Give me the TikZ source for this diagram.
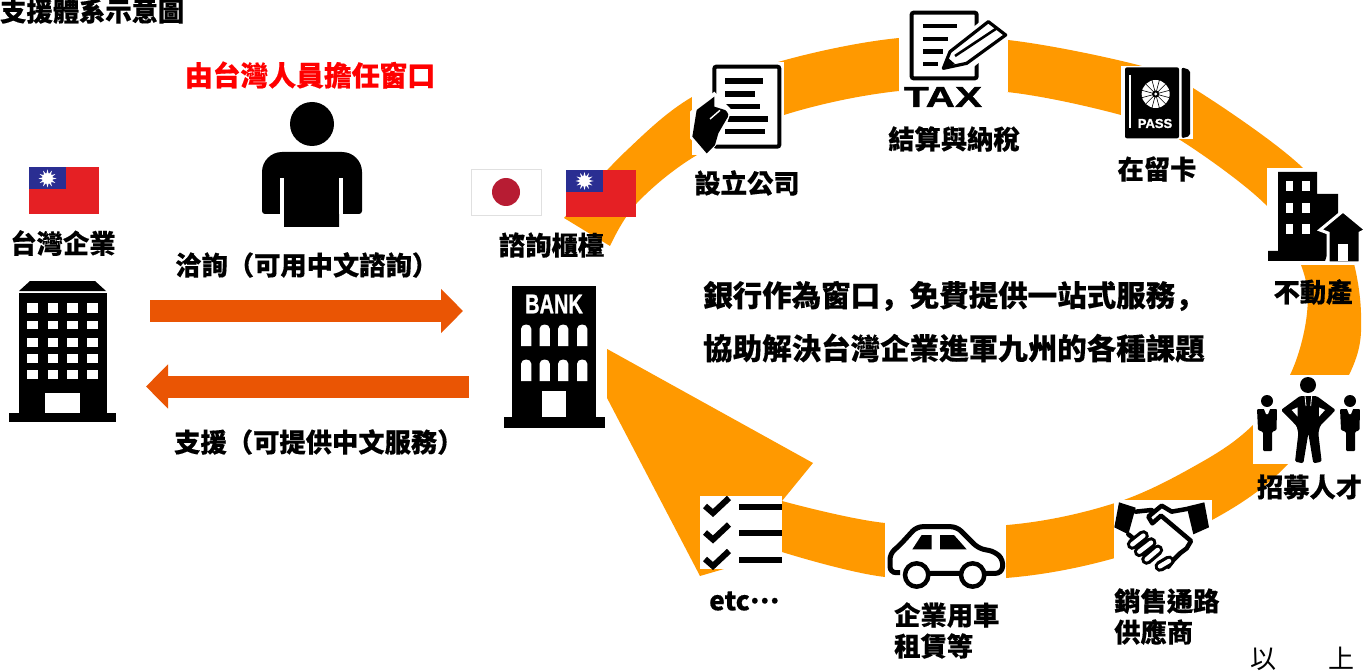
\documentclass[tikz,border=0pt]{standalone}
\usepackage{fontspec}
\usetikzlibrary{arrows.meta,calc}
\newfontfamily\cjk{Noto Sans CJK TC}[BoldFeatures={FakeBold=0.35}]
\newfontfamily\cjksc{Noto Sans CJK SC}[BoldFeatures={FakeBold=0.35}]
\newfontfamily\heavy{Liberation Sans}[BoldFeatures={FakeBold=1.2}]
\setmainfont{Liberation Sans}
\definecolor{ring}{RGB}{255,153,0}
\definecolor{blockarrow}{RGB}{234,85,4}
\definecolor{flagred}{RGB}{229,32,36}
\definecolor{flagblue}{RGB}{42,46,146}
\definecolor{jpred}{RGB}{183,28,51}
\tikzset{
  lab/.style={font=\cjk\bfseries\fontsize{26.3}{26.3}\selectfont,text=black,inner sep=0pt},
  mid/.style={font=\cjk\bfseries\fontsize{29.5}{29.5}\selectfont,text=black,inner sep=0pt,anchor=west},
  flow/.style={line width=22pt,blockarrow,-{Triangle[length=22pt,width=43pt]}},
  mask/.style={fill=white,draw=none},
  roc/.pic={
    \fill[flagred] (0,0) rectangle (70,47);
    \fill[flagblue] (0,0) rectangle (37,22);
    \foreach \a in {0,30,...,330}{
      \fill[white] ($(18.5,11)+(\a-12:5)$) -- ($(18.5,11)+(\a:9)$) -- ($(18.5,11)+(\a+12:5)$) -- cycle;
    }
    \fill[white] (18.5,11) circle (5.6);
  },
  manside/.pic={
    \fill (0,0) circle (6);
    \fill[rounded corners=1pt] (-10,8) -- (10,8) -- (9.5,29) -- (5,31) -- (5,50) -- (-4,50) -- (-4,31) -- (-9,29) -- cycle;
    \fill[white] (-3,8) -- (3,8) -- (1,13) -- (-1,13) -- cycle;
  }
}
\begin{document}
\begin{tikzpicture}[x=1pt,y=-1pt]
\useasboundingbox (0,0) rectangle (1363,671);
\fill[white] (0,0) rectangle (1363,671);

% the ring with its arrowhead
\fill[ring] plot[smooth,tension=.6] coordinates {(564,218) (625,152) (692,97) (778,62) (899,38) (1008,40) (1138,65) (1193,88) (1303,168) (1345,235) (1361,313) (1349,375) (1288,464) (1212,520) (1115,558) (1006,578) (885,577) (782,552)}
  -- (700,576) -- (571,329) -- (813,463)
  -- plot[smooth,tension=.6] coordinates {(782,501) (885,523) (1007,525) (1115,503) (1200,463) (1253,425) (1290,375) (1307,313) (1301,265) (1267,206) (1177,138) (1121,115) (1007,92) (899,91) (784,115) (697,155) (637,203) (610,246)}
  -- cycle;

% masks of the icons
\fill[mask] (692,62) rectangle (784,155);
\fill[mask] (899,0) rectangle (1008,92);
\fill[mask] (1121,66) rectangle (1193,139);
\fill[mask] (1267,168) rectangle (1363,265);
\fill[mask] (1253,375) rectangle (1363,464);
\fill[mask] (1114,500) rectangle (1212,565);
\fill[mask] (885,510) rectangle (1006,590);
\fill[mask] (700,496) rectangle (782,569);
\fill[mask] (500,280) rectangle (607,430);

% flags
\pic at (29,167.5) {roc};
\pic at (566,170) {roc};
\draw[black!12,fill=white] (471.5,169) rectangle (541,215);
\fill[jpred] (506,192) circle (14);

% office block
\fill (19,291) -- (30,281) -- (95,281) -- (106,291) -- cycle;
\fill (19,293) rectangle (107,413);
\fill (9,413) rectangle (116,422);
\foreach \xa/\xb in {27/38,48/58,67/78,87/98}
  \foreach \ya/\yb in {303/313,321/329,338/347,354/363,370/379}
    \fill[white] (\xa,\ya) rectangle (\xb,\yb);
\fill[white] (45,393) rectangle (80,413);

% person
\fill (312,124) circle (22);
\fill (284,227) -- (284,214) [rounded corners=3] -- (262,214) [rounded corners=20] -- (262,152) -- (362,152) [rounded corners=3] -- (362,214) [sharp corners] -- (339,214) -- (339,227) -- cycle;
\fill[white] (280,178) rectangle (284,214.5);
\fill[white] (339,178) rectangle (343,214.5);

% bank
\fill (512,286) rectangle (596,417);
\fill (504,417) rectangle (605,428);
\foreach \ya/\yb in {324/346,359/381}
  \foreach \xa in {521,539.5,558,577}
    \fill[white] (\xa,\yb) -- (\xa,\ya+5) .. controls (\xa,\ya-1) and (\xa+10.4,\ya-1) .. (\xa+10.4,\ya+5) -- (\xa+10.4,\yb) -- cycle;
\fill[white] (542,391) rectangle (566,417);
\node[inner sep=0pt,text=white,font=\heavy\bfseries\fontsize{27}{27}\selectfont,xscale=.74] (banktxt) at (554,304) {BANK};

% contract
\begin{scope}[shift={(685,55)},scale=1/3]
  \draw[line width=4pt,rounded corners=2pt] (88,35) rectangle (283,275);
  \draw[line width=5.5pt] (120,78) -- (235,78) (120,117) -- (210,117) (120,155) -- (225,155) (125,192) -- (248,192) (120,230) -- (240,230);
  \fill[white] (15,170) -- (88,110) -- (140,165) -- (110,250) -- (65,305) -- (15,250) -- cycle;
  \fill (22,245) -- (35,165) -- (88,125) -- (88,155) -- (120,165) [rounded corners=3pt] -- (133,178) [sharp corners] -- (100,235) -- (90,270) -- (65,295) -- cycle;
  \draw[white,line width=1.4pt] (75,192) -- (105,166);
\end{scope}

% tax form
\begin{scope}[shift={(895,0)},scale=1/3]
  \draw[line width=4pt,rounded corners=2pt] (50,38) rectangle (245,235);
  \draw[line width=4.5pt] (85,78) -- (185,78) (85,117) -- (160,117) (85,155) -- (145,155) (85,192) -- (130,192);
  \fill[white] (120,225) -- (150,150) -- (280,45) -- (352,105) -- (225,210) -- cycle;
  \draw[line width=3.2pt,line join=round,fill=white] (145,205) -- (165,155) -- (280,65) -- (332,105) -- (215,190) -- cycle;
  \draw[line width=2.6pt] (180,168) -- (305,85);
  \fill (145,205) -- (155,170) -- (180,192) -- cycle;
\end{scope}
\node[inner sep=0pt,font=\heavy\bfseries\fontsize{29}{29}\selectfont,xscale=1.4] (taxtxt) at (943,97) {TAX};

% passport
\begin{scope}[shift={(1115,60)},scale=1/3]
  \fill[rounded corners=2pt] (30,22) rectangle (192,235);
  \fill[rounded corners=2pt] (200,22) -- (225,30) -- (225,228) -- (200,235) -- cycle;
  \draw[white,line width=1.3pt] (45,45) -- (45,205);
  \fill[white] (122,102) circle (42);
  \foreach \a in {15,45,...,345}{
    \draw[line width=.6pt] ($(122,102)+(\a:10)$) -- ($(122,102)+(\a:43)$);
  }
  \fill (122,102) circle (11);
  \fill[white] (122,102) circle (5);
\end{scope}
\node[inner sep=0pt,text=white,font=\heavy\bfseries\fontsize{13}{13}\selectfont] (passtxt) at (1155,123.5) {PASS};

% buildings
\fill (1278,172) -- (1317,172) -- (1317,194) -- (1338,194) -- (1338,225) -- (1325,261) -- (1268,261) -- (1268,251) -- (1278,251) -- cycle;
\foreach \xa/\xb in {1286/1293,1302/1310}
  \foreach \ya/\yb in {181/191,203/213,224/234}
    \fill[white] (\xa,\ya) rectangle (\xb,\yb);
\draw[white,line width=3pt,fill=black] (1320,230) -- (1343,211) -- (1366,230) -- (1360,233) -- (1360,263) -- (1328,263) -- (1328,233) -- cycle;
\fill[white] (1338,244) rectangle (1348,261);

% staff
\fill (1308,385) circle (8);
\begin{scope}[shift={(1250,370)},scale=1/3]
  \fill[rounded corners=1.5pt] (150,78) -- (200,78) -- (257,120) -- (210,168) -- (205,190) -- (215,275) -- (190,280) -- (175,190) -- (160,280) -- (135,275) -- (145,190) -- (140,168) -- (93,120) -- cycle;
  \fill[white] (125,120) -- (143,140) -- (143,112) -- cycle;
  \fill[white] (225,120) -- (207,140) -- (207,112) -- cycle;
  \draw[white,line width=.8pt] (165,78) -- (168,108) (185,78) -- (182,108);
\end{scope}
\pic at (1267,401) {manside};
\pic at (1350,401) {manside};

% handshake
\begin{scope}[shift={(1105,495)},scale=1/3]
  \fill (42,22) -- (92,38) -- (70,118) -- (28,97) -- cycle;
  \fill (245,35) -- (298,22) -- (312,97) -- (265,118) -- cycle;
  \draw[line width=4.5pt,line join=round,line cap=round] (92,50) -- (140,45) (245,42) -- (200,50) -- (170,32) -- (130,65) -- (142,85) -- (168,62) -- (258,138) -- (245,160) -- (225,175) -- (205,195) -- (190,215) (70,118) -- (85,130);
  \foreach \xa/\ya/\xb/\yb in {82/148/115/122,103/170/138/143,125/193/158/165,165/214/192/198}{
    \draw[line width=11pt,line cap=round] (\xa,\ya) -- (\xb,\yb);
    \draw[white,line width=4.5pt,line cap=round] (\xa,\ya) -- (\xb,\yb);
  }
\end{scope}

% car
\begin{scope}[shift={(880,510)},scale=1/3]
  \draw[line width=5pt,rounded corners=6pt] (60,188) -- (30,188) -- (30,130) -- (55,110) -- (110,50) -- (230,50) -- (295,115) -- (345,125) -- (370,150) -- (365,190) -- (310,190) -- (80,190);
  \fill (97,118) -- (125,75) -- (155,75) -- (155,118) -- cycle;
  \fill (180,75) -- (222,75) -- (260,118) -- (180,118) -- cycle;
  \draw[line width=4.5pt,fill=white] (110,195) circle (35);
  \draw[line width=4.5pt,fill=white] (278,195) circle (35);
\end{scope}

% checklist
\foreach \y in {0,26.5,53}{
  \draw[line width=6pt] (705,{506+\y}) -- (713,{513+\y}) -- (729,{498+\y});
}
\draw[line width=6.5pt] (739,507) -- (782,507) (739,533) -- (782,533) (739,560) -- (782,560);

% block arrows
\coordinate (asktail) at (150,311);
\coordinate (askhead) at (463,311);
\coordinate (backtail) at (469,386.5);
\coordinate (backhead) at (146,386.5);
\draw[flow] (asktail) -- (askhead);
\draw[flow] (backtail) -- (backhead);

% texts
\node[lab,anchor=west] (title) at (0,11) {支援體系示意圖};
\node[lab,text=red,font=\cjk\bfseries\fontsize{27.8}{27.8}\selectfont] (window) at (310,75) {由台灣人員擔任窗口};
\node[lab] (firm) at (63,243) {台灣企業};
\node[lab,anchor=west] (ask) at (175,265) {洽詢（可用中文諮詢）};
\node[lab,anchor=west] (back) at (174,442) {支援（可提供中文服務）};
\node[lab] (desk) at (551.5,245) {諮詢櫃檯};
\node[lab] (found) at (747,183) {設立公司};
\node[lab] (tax) at (954,139) {結算與納稅};
\node[lab] (card) at (1157,169) {在留卡};
\node[lab] (estate) at (1313,292) {不動產};
\node[lab] (hire) at (1309.5,487) {招募人才};
\node[mid] (line1) at (703,296) {銀行作為窗口{\cjksc ，}免費提供一站式服務{\cjksc ，}};
\node[mid] (line2) at (703,348) {協助解決台灣企業進軍九州的各種課題};
\node[lab,anchor=west] (etc) at (709,601) {etc\raisebox{7pt}{…}};
\node[lab,anchor=west] (lease1) at (894,615) {企業用車};
\node[lab,anchor=west] (lease2) at (894,646) {租賃等};
\node[lab,anchor=west] (sales1) at (1114,601) {銷售通路};
\node[lab,anchor=west] (sales2) at (1114,632) {供應商};
\node[inner sep=0pt,anchor=west,font=\cjk\fontsize{26}{26}\selectfont] (end) at (1250,659) {以　　上};
\end{tikzpicture}
\end{document}
